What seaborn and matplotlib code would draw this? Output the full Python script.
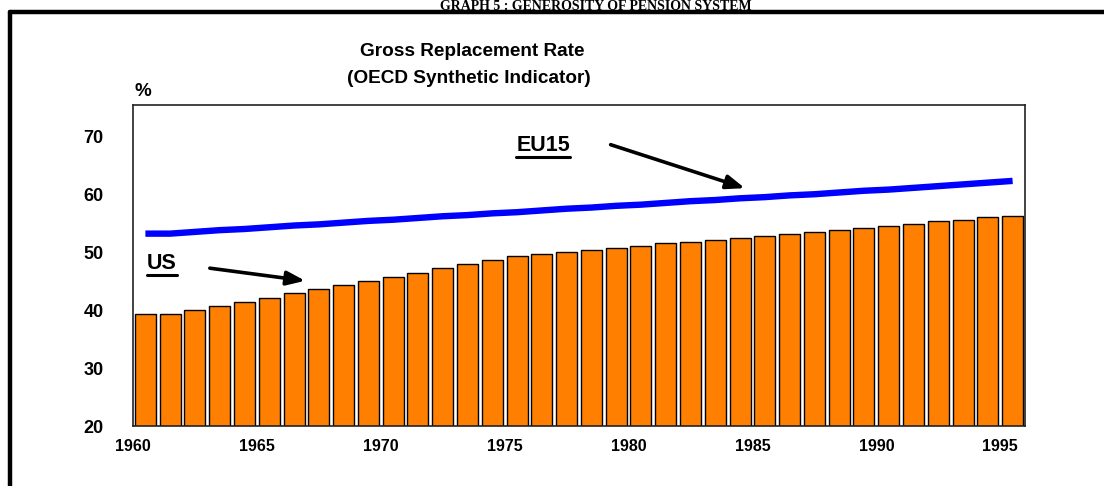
import numpy as np
import matplotlib.pyplot as plt
import pandas as pd
import seaborn as sns
from matplotlib.lines import Line2D

years = list(range(1960, 1996))
us = [39.3, 39.3, 40.0, 40.7, 41.4, 42.1, 42.9, 43.6, 44.3, 45.0,
      45.7, 46.4, 47.2, 47.9, 48.6, 49.3, 49.7, 50.0, 50.3, 50.7,
      51.0, 51.5, 51.7, 52.1, 52.4, 52.8, 53.2, 53.5, 53.9, 54.2,
      54.5, 54.9, 55.3, 55.6, 56.0, 56.3]
eu15 = [53.2, 53.2, 53.5, 53.8, 54.0, 54.3, 54.6, 54.8, 55.1, 55.4,
        55.6, 55.9, 56.2, 56.4, 56.7, 56.9, 57.2, 57.5, 57.7, 58.0,
        58.2, 58.5, 58.8, 59.0, 59.3, 59.5, 59.8, 60.0, 60.3, 60.6,
        60.8, 61.1, 61.4, 61.7, 62.0, 62.3]
ytick_vals = [20, 30, 40, 50, 60, 70]
xtick_years = [1960, 1965, 1970, 1975, 1980, 1985, 1990, 1995]

sns.set_style("white")
plt.rcParams["font.family"] = ["Liberation Sans", "DejaVu Sans"]
plt.rcParams["text.color"] = "black"
plt.rcParams["xtick.color"] = "black"
plt.rcParams["ytick.color"] = "black"

df = pd.DataFrame({"year": [str(y) for y in years], "us": us, "eu15": eu15})
cats = list(df["year"])
pos = np.arange(len(cats))

fig = plt.figure(figsize=(11.04, 4.86), dpi=100)
ax = fig.add_axes([133 / 1104, 60 / 486, 892 / 1104, 321 / 486])

sns.barplot(data=df, x="year", y="us", order=cats, color="#FF8000", saturation=1,
            edgecolor="black", linewidth=1.0, width=0.85, ax=ax)
sns.lineplot(x=pos, y=df["eu15"], color="#0000FF", linewidth=4.6, ax=ax,
             solid_capstyle="butt")

ax.set_xlim(-0.5, len(cats) - 0.5)
ax.set_ylim(20, 75.4)
ax.set_yticks(ytick_vals)
ax.set_yticklabels([str(v) for v in ytick_vals], fontsize=13, fontweight="bold")
ax.set_xticks([cats.index(str(y)) - 0.5 for y in xtick_years])
ax.set_xticklabels([str(y) for y in xtick_years], fontsize=11.5, fontweight="bold")
ax.tick_params(axis="y", length=0, pad=21)
ax.tick_params(axis="x", length=0, pad=9)
ax.set_xlabel("")
ax.set_ylabel("")
for s in ax.spines.values():
    s.set_visible(True)
    s.set_color("#222222")
    s.set_linewidth(1.2)

# series labels with arrows
t_eu = ax.text(16.05, 68.4, "EU15", fontsize=15.5, fontweight="bold", ha="center", va="center")
t_us = ax.text(0.67, 48.0, "US", fontsize=15.5, fontweight="bold", ha="center", va="center")
arrow = dict(arrowstyle="-|>,head_length=1.1,head_width=0.42", color="black", lw=2.6)
ax.annotate("", xy=(24.3, 60.9), xytext=(18.67, 68.7), arrowprops=arrow)
ax.annotate("", xy=(6.56, 45.0), xytext=(2.49, 47.3), arrowprops=arrow)

fig.text(472 / 1104, 1 - 51 / 486, "Gross Replacement Rate", fontsize=13.7, fontweight="bold",
         ha="center", va="center")
fig.text(469 / 1104, 1 - 78 / 486, "(OECD Synthetic Indicator)", fontsize=13.7, fontweight="bold",
         ha="center", va="center")
fig.text(143 / 1104, 1 - 92 / 486, "%", fontsize=13.5, fontweight="bold", ha="center", va="center")

fig.text(596 / 1104, 1 - 9.5 / 486, "GRAPH 5 : GENEROSITY OF PENSION SYSTEM",
         fontsize=10, fontweight="bold", family="Liberation Serif", ha="center", va="baseline")

# outer frame
fig.add_artist(Line2D([10 / 1104, 1.01], [1 - 12.5 / 486, 1 - 12.5 / 486], color="black",
                      lw=3.2, transform=fig.transFigure))
fig.add_artist(Line2D([10 / 1104, 10 / 1104], [1 - 12.5 / 486, -0.01], color="black",
                      lw=3.2, transform=fig.transFigure))

# underline the series labels
fig.canvas.draw()
r = fig.canvas.get_renderer()
for t in (t_eu, t_us):
    bb = t.get_window_extent(r)
    yy = bb.y0 - 1
    fig.add_artist(Line2D([bb.x0 / 1104, bb.x1 / 1104], [yy / 486, yy / 486], color="black",
                          lw=2.2, transform=fig.transFigure))

fig.savefig("out.png", dpi=100)
